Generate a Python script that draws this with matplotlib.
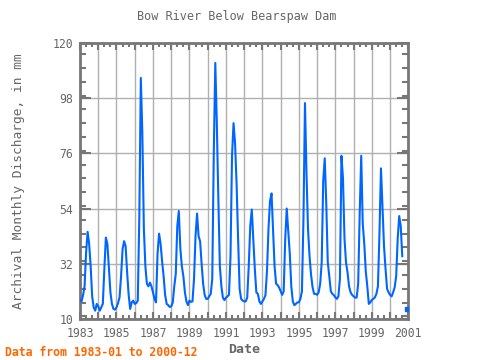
import numpy as np
import matplotlib
matplotlib.use("Agg")
import matplotlib.pyplot as plt
from matplotlib.ticker import MultipleLocator, FixedLocator

# -------------------------------
# monthly values (Jan..Dec)
# -------------------------------
q1983 = [17.7, 17.0, 19.5, 23.0, 36.5, 44.7, 40.0, 31.0, 19.0, 14.6, 13.3, 16.0]
q1984 = [15.0, 13.3, 14.6, 16.0, 29.8, 42.4, 40.0, 30.0, 20.6, 16.0, 14.0, 13.7]
q1985 = [14.6, 16.3, 18.6, 27.0, 37.8, 41.0, 39.0, 28.5, 19.6, 14.0, 16.6, 17.3]
q1986 = [16.0, 16.3, 17.3, 50.0, 106.0, 84.0, 46.0, 31.0, 24.0, 23.0, 24.5, 23.0]
q1987 = [20.6, 18.0, 16.6, 36.0, 44.0, 40.0, 33.0, 27.0, 19.5, 16.0, 15.5, 14.8]
q1988 = [15.0, 16.5, 23.0, 28.0, 47.0, 53.0, 38.0, 31.0, 27.0, 20.6, 17.0, 15.5]
q1989 = [17.3, 16.8, 17.0, 26.0, 43.0, 52.0, 43.0, 41.0, 32.0, 24.0, 19.6, 18.0]
q1990 = [18.0, 19.0, 20.0, 26.0, 76.0, 112.0, 88.0, 58.0, 31.0, 23.0, 18.5, 17.5]
q1991 = [18.5, 19.0, 19.6, 35.0, 75.0, 88.0, 80.0, 64.0, 42.0, 22.0, 18.0, 17.3]
q1992 = [17.0, 17.0, 18.5, 31.0, 47.0, 53.6, 42.0, 30.0, 20.6, 20.0, 17.0, 16.0]
q1993 = [17.0, 18.0, 19.5, 29.0, 46.0, 57.0, 60.0, 46.0, 31.0, 24.0, 23.5, 22.5]
q1994 = [21.0, 19.6, 21.0, 42.0, 54.0, 45.0, 36.0, 23.0, 17.0, 15.5, 16.0, 16.6]
q1995 = [16.6, 18.0, 21.0, 50.0, 96.0, 68.0, 45.7, 35.0, 27.6, 22.6, 20.0, 20.0]
q1996 = [19.6, 20.6, 24.0, 32.5, 65.0, 74.0, 56.0, 32.5, 27.0, 21.0, 20.0, 19.5]
q1997 = [18.6, 18.0, 19.0, 26.0, 75.0, 66.0, 42.0, 32.5, 28.5, 23.0, 20.6, 19.6]
q1998 = [19.0, 18.5, 18.5, 24.0, 52.0, 75.0, 48.0, 40.0, 29.0, 23.0, 16.0, 16.6]
q1999 = [17.6, 18.0, 18.6, 20.0, 23.0, 44.0, 70.0, 55.0, 39.0, 30.0, 22.0, 20.6]
q2000 = [19.6, 19.0, 20.6, 22.6, 27.0, 42.0, 51.0, 47.0, 35.0, np.nan, np.nan, 14.0]

flow = np.array(q1983 + q1984 + q1985 + q1986 + q1987 + q1988 + q1989 + q1990
                + q1991 + q1992 + q1993 + q1994 + q1995 + q1996 + q1997 + q1998
                + q1999 + q2000)
dates = 1983 + np.arange(len(flow)) / 12.0

# points with no neighbours get a dot
prev_nan = np.r_[True, np.isnan(flow[:-1])]
next_nan = np.r_[np.isnan(flow[1:]), True]
lonely = ~np.isnan(flow) & prev_nan & next_nan

# -------------------------------
# figure
# -------------------------------
grey = "#666666"
mono = "DejaVu Sans Mono"

fig = plt.figure(figsize=(4.8, 3.6), dpi=100)
ax = fig.add_axes([0.1667, 0.114, 0.684, 0.767])

ax.plot(dates, flow, color="#0066ff", lw=1.5, zorder=3)
ax.plot(dates[lonely], flow[lonely], "s", color="#0066ff", ms=2.5, zorder=3)

ax.set_xlim(1983, 2001)
ax.set_ylim(10, 120)

ax.xaxis.set_minor_locator(MultipleLocator(1 / 3))
ax.set_xticks(range(1983, 2002))
ax.set_xticklabels([str(y) if y % 2 == 1 else "" for y in range(1983, 2002)])
ax.yaxis.set_major_locator(FixedLocator([10, 32, 54, 76, 98, 120]))
ax.yaxis.set_minor_locator(MultipleLocator(5.5))

ax.grid(True, which="major", color="#b0b0b0", lw=1)
ax.set_axisbelow(True)

ax.tick_params(which="both", direction="in", top=True, right=True,
               color="#777777", labelcolor=grey, labelsize=8.3, width=1.5)
ax.tick_params(axis="x", which="major", length=5, pad=6)
ax.tick_params(axis="x", which="minor", length=3)
ax.tick_params(axis="y", which="major", length=8, pad=5)
ax.tick_params(axis="y", which="minor", length=4)
for lab in ax.get_xticklabels() + ax.get_yticklabels():
    lab.set_family(mono)

for s in ax.spines.values():
    s.set_color("#777777")
    s.set_linewidth(2)

fig.text(0.494, 0.953, "Bow River Below Bearspaw Dam", ha="center", va="center",
         family=mono, fontsize=8.5, color=grey)
ax.set_ylabel("Archival Monthly Discharge, in mm", family=mono, fontsize=9.3,
              color=grey, labelpad=20)
ax.set_xlabel("Date", family=mono, fontsize=9.5, color=grey, fontweight="bold",
              labelpad=2)
fig.text(0.01, 0.022, "Data from 1983-01 to 2000-12", ha="left", va="center",
         family=mono, fontsize=8.3, color="#ff6600", fontweight="bold")

fig.savefig("out.png", dpi=100)
